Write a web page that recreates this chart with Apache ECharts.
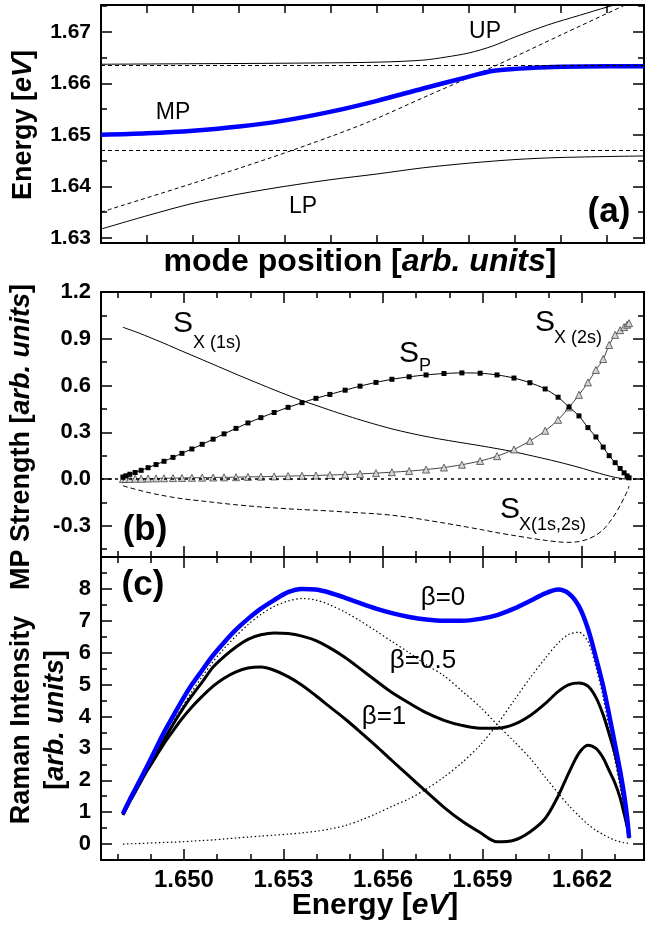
<!DOCTYPE html>
<html>
<head>
<meta charset="utf-8">
<script src="https://cdn.jsdelivr.net/npm/echarts@6/dist/echarts.min.js"></script>
<style>
  html, body { margin: 0; padding: 0; background: #fff; }
  #chart { width: 646px; height: 927px; }
</style>
</head>
<body>
<div id="chart"></div>
<script>
// ---- panel (a): energy vs mode position ----
var modeMP = [0, 1, 2, 3, 4, 5, 6, 7, 8, 8.5, 9, 10, 11, 11.8];
var mpEnergy = [1.6500, 1.6503, 1.6508, 1.6516, 1.6528, 1.6545, 1.6566, 1.6590, 1.6613, 1.6624, 1.6628, 1.6632, 1.6633, 1.6633];
var modeUP = [0, 2, 4, 6, 7, 7.5, 8, 8.5, 9, 9.7, 10.4, 11, 11.8];
var upEnergy = [1.6637, 1.6638, 1.6639, 1.6641, 1.6645, 1.6651, 1.6659, 1.6672, 1.6690, 1.6713, 1.6732, 1.6748, 1.6768];
var modeLP = [0, 1, 2, 3, 4, 5, 6, 7, 8, 9, 10, 11.8];
var lpEnergy = [1.6317, 1.6343, 1.6367, 1.6385, 1.6400, 1.6413, 1.6424, 1.6436, 1.6445, 1.6452, 1.6456, 1.6459];
var modePh = [0, 2, 3.67, 5, 5.84, 7, 8.57, 10, 11.39, 11.8];
var phEnergy = [1.6350, 1.6406, 1.6455, 1.6497, 1.6526, 1.6572, 1.6634, 1.6694, 1.6752, 1.6769];
var excitonLevels = [1.6471, 1.6635];

// ---- panels (b) and (c): vs MP energy ----
var energy = [1.64816, 1.64825, 1.64837, 1.64853, 1.64871, 1.64892, 1.64916, 1.64940, 1.64967, 1.64994,
  1.65024, 1.65055, 1.65088, 1.65121, 1.65157, 1.65193, 1.65232, 1.65272, 1.65314, 1.65356,
  1.65398, 1.65440, 1.65486, 1.65531, 1.65579, 1.65627, 1.65679, 1.65730, 1.65784, 1.65838,
  1.65893, 1.65944, 1.65995, 1.66043, 1.66089, 1.66128, 1.66161, 1.66191, 1.66218, 1.66242,
  1.66264, 1.66282, 1.66300, 1.66315, 1.66327, 1.66336, 1.66342];
var sP = [0.013, 0.021, 0.031, 0.042, 0.056, 0.073, 0.093, 0.114, 0.139, 0.165,
  0.193, 0.223, 0.256, 0.29, 0.325, 0.36, 0.394, 0.427, 0.46, 0.49,
  0.518, 0.543, 0.57, 0.596, 0.62, 0.64, 0.656, 0.668, 0.677, 0.681,
  0.679, 0.668, 0.648, 0.618, 0.578, 0.525, 0.462, 0.405, 0.33, 0.27,
  0.205, 0.15, 0.105, 0.068, 0.04, 0.02, 0.008];
var sX2s = [0, 0, 0.001, 0.002, 0.002, 0.003, 0.004, 0.005, 0.006, 0.007,
  0.008, 0.009, 0.01, 0.011, 0.012, 0.014, 0.015, 0.017, 0.019, 0.021,
  0.023, 0.026, 0.029, 0.033, 0.038, 0.044, 0.051, 0.061, 0.074, 0.092,
  0.116, 0.147, 0.19, 0.245, 0.31, 0.38, 0.46, 0.54, 0.62, 0.7,
  0.77, 0.86, 0.925, 0.955, 0.975, 0.99, 1.0];
var sX1s = [0.974, 0.967, 0.958, 0.946, 0.931, 0.913, 0.892, 0.871, 0.846, 0.821,
  0.794, 0.766, 0.736, 0.706, 0.673, 0.641, 0.607, 0.572, 0.537, 0.503,
  0.473, 0.442, 0.41, 0.38, 0.35, 0.322, 0.296, 0.273, 0.252, 0.233,
  0.214, 0.195, 0.175, 0.152, 0.13, 0.11, 0.092, 0.075, 0.058, 0.043,
  0.03, 0.02, 0.011, 0.005, 0.001, 0, 0];
var sX12 = [-0.043, -0.049, -0.056, -0.065, -0.075, -0.086, -0.097, -0.107, -0.117, -0.126,
  -0.134, -0.141, -0.149, -0.157, -0.165, -0.172, -0.179, -0.185, -0.191, -0.196,
  -0.2, -0.205, -0.211, -0.217, -0.223, -0.232, -0.246, -0.263, -0.282, -0.302,
  -0.323, -0.344, -0.362, -0.379, -0.393, -0.403, -0.406, -0.401, -0.385, -0.36,
  -0.325, -0.28, -0.225, -0.17, -0.12, -0.08, -0.045];
var beta0 = [0.95, 1.15, 1.4, 1.72, 2.08, 2.5, 3.0, 3.5, 4.0, 4.5,
  5.0, 5.45, 5.92, 6.32, 6.72, 7.06, 7.38, 7.65, 7.9, 8.0,
  7.98, 7.88, 7.72, 7.55, 7.38, 7.24, 7.12, 7.04, 7.0, 7.0,
  7.06, 7.18, 7.38, 7.62, 7.86, 7.98, 7.85, 7.45, 6.75, 5.85,
  4.95, 4.05, 3.1, 2.3, 1.55, 0.85, 0.2];
var beta05 = [0.92, 1.1, 1.35, 1.65, 2.0, 2.38, 2.82, 3.27, 3.75, 4.2,
  4.65, 5.08, 5.55, 5.88, 6.18, 6.42, 6.56, 6.62, 6.6, 6.52,
  6.38, 6.15, 5.85, 5.5, 5.12, 4.75, 4.42, 4.12, 3.88, 3.72,
  3.63, 3.63, 3.75, 4.02, 4.4, 4.78, 5.0, 5.05, 4.95, 4.6,
  4.05, 3.45, 2.8, 2.05, 1.35, 0.75, 0.2];
var beta1 = [0.92, 1.1, 1.34, 1.63, 1.97, 2.35, 2.75, 3.15, 3.55, 3.93,
  4.3, 4.63, 4.95, 5.2, 5.4, 5.52, 5.55, 5.45, 5.25, 4.98,
  4.65, 4.3, 3.92, 3.52, 3.08, 2.62, 2.13, 1.65, 1.15, 0.72,
  0.36, 0.07, 0.12, 0.38, 0.8, 1.5, 2.25, 2.85, 3.1, 3.0,
  2.7, 2.3, 1.9, 1.45, 0.95, 0.55, 0.2];
var dotA = [0, 0, 0.01, 0.01, 0.02, 0.03, 0.04, 0.05, 0.06, 0.07,
  0.09, 0.11, 0.13, 0.16, 0.19, 0.22, 0.25, 0.28, 0.31, 0.35,
  0.4, 0.47, 0.58, 0.74, 0.95, 1.18, 1.42, 1.72, 2.1, 2.55,
  3.1, 3.75, 4.5, 5.2, 5.82, 6.3, 6.58, 6.64, 6.35, 5.55,
  4.6, 3.6, 2.6, 1.8, 1.1, 0.55, 0.15];
var dotB = [0.92, 1.1, 1.35, 1.65, 2.0, 2.4, 2.85, 3.3, 3.8, 4.28,
  4.78, 5.25, 5.72, 6.13, 6.52, 6.88, 7.2, 7.45, 7.62, 7.7,
  7.65, 7.5, 7.27, 7.0, 6.68, 6.35, 6.0, 5.62, 5.28, 4.8,
  4.3, 3.75, 3.22, 2.7, 2.1, 1.6, 1.2, 0.88, 0.62, 0.43,
  0.3, 0.2, 0.12, 0.07, 0.04, 0.03, 0.02];

// tick labels / tick positions
var aYLabels = [1.63, 1.64, 1.65, 1.66, 1.67];
var aYMinor = [1.635, 1.645, 1.655, 1.665, 1.675];
var aXTicks = [1, 2, 3, 4, 5, 6, 7, 8, 9, 10, 11];
var eLabels = [1.650, 1.653, 1.656, 1.659, 1.662];
var eMinor = [1.648, 1.649, 1.651, 1.652, 1.654, 1.655, 1.657, 1.658, 1.660, 1.661, 1.663];
var bYLabels = [-0.3, 0, 0.3, 0.6, 0.9, 1.2];
var bYMinor = [-0.45, -0.15, 0.15, 0.45, 0.75, 1.05];
var cYLabels = [0, 1, 2, 3, 4, 5, 6, 7, 8];
var cYMinor = [0.5, 1.5, 2.5, 3.5, 4.5, 5.5, 6.5, 7.5, 8.5];

var FONT = '"Liberation Sans", Arial, Helvetica, sans-serif';

function zip(xs, ys) {
  return xs.map(function (x, i) { return [x, ys[i]]; });
}

var xAxes = [], yAxes = [];

// one grid = 4 x axes (bottom major/minor, top major/minor) + 4 y axes
function addAxes(list, gi, isX, cfg) {
  var sides = isX ? ['bottom', 'top'] : ['left', 'right'];
  sides.forEach(function (pos) {
    [true, false].forEach(function (major) {
      var showLab = major && pos === sides[0] && cfg.labels;
      list.push({
        type: 'value', gridIndex: gi, position: pos,
        min: cfg.min, max: cfg.max,
        axisLine: { show: major, onZero: false, lineStyle: { color: '#000', width: 2 } },
        axisTick: {
          show: true, inside: true,
          length: major ? cfg.majorLen : cfg.minorLen,
          customValues: major ? cfg.majors : cfg.minors,
          lineStyle: { color: '#000', width: 1.5 }
        },
        axisLabel: showLab ? {
          show: true, customValues: cfg.labels, formatter: cfg.fmt,
          color: '#000', fontWeight: 'bold', fontSize: cfg.fontSize,
          fontFamily: FONT, margin: cfg.margin
        } : { show: false },
        splitLine: { show: false }
      });
    });
  });
}

// panel a
addAxes(xAxes, 0, true, { min: 0, max: 11.8, majors: aXTicks, minors: [], majorLen: 8, minorLen: 0 });
addAxes(yAxes, 0, false, { min: 1.629, max: 1.6752, majors: aYLabels, minors: aYMinor, majorLen: 11, minorLen: 6,
  labels: aYLabels, fmt: function (v) { return v.toFixed(2); }, fontSize: 21, margin: 10 });
// panel b
addAxes(xAxes, 1, true, { min: 1.6475, max: 1.66387, majors: eLabels, minors: eMinor, majorLen: 11, minorLen: 6 });
addAxes(yAxes, 1, false, { min: -0.5, max: 1.2, majors: bYLabels, minors: bYMinor, majorLen: 11, minorLen: 6,
  labels: bYLabels, fmt: function (v) { return v.toFixed(1); }, fontSize: 22, margin: 10 });
// panel c
addAxes(xAxes, 2, true, { min: 1.6475, max: 1.66387, majors: eLabels, minors: eMinor, majorLen: 11, minorLen: 6,
  labels: eLabels, fmt: function (v) { return v.toFixed(3); }, fontSize: 24, margin: 8 });
addAxes(yAxes, 2, false, { min: -0.5, max: 9, majors: cYLabels, minors: cYMinor, majorLen: 11, minorLen: 6,
  labels: cYLabels, fmt: function (v) { return String(v); }, fontSize: 22, margin: 10 });

function line(panel, data, color, width, type, extra) {
  var s = {
    type: 'line', xAxisIndex: panel * 4, yAxisIndex: panel * 4,
    data: data, showSymbol: false, symbol: 'none', smooth: 0.3,
    lineStyle: { color: color, width: width, type: type || 'solid' },
    silent: true, animation: false
  };
  if (extra) Object.keys(extra).forEach(function (k) { s[k] = extra[k]; });
  return s;
}

var zeroLine = {
  silent: true, symbol: 'none', label: { show: false }, precision: 5,
  lineStyle: { color: '#000', width: 1.5, type: [3, 4] },
  data: [{ yAxis: 0 }]
};
var excLines = {
  silent: true, symbol: 'none', label: { show: false }, precision: 5,
  lineStyle: { color: '#000', width: 1, type: [4, 3] },
  data: excitonLevels.map(function (v) { return { yAxis: v }; })
};

var series = [
  // (a)
  line(0, zip(modeLP, lpEnergy), '#000', 1, 'solid', { markLine: excLines }),
  line(0, zip(modePh, phEnergy), '#000', 1, [4, 3]),
  line(0, zip(modeUP, upEnergy), '#000', 1),
  line(0, zip(modeMP, mpEnergy), '#0000ff', 4.5),
  // (b)
  line(1, zip(energy, sX1s), '#000', 1, 'solid', { markLine: zeroLine }),
  line(1, zip(energy, sX12), '#000', 1, [5, 3]),
  line(1, zip(energy, sX2s), '#444', 1, 'solid', {
    showSymbol: true, symbol: 'triangle', symbolSize: 7,
    itemStyle: { color: '#d4d4d4', borderColor: '#444', borderWidth: 0.8 }
  }),
  line(1, zip(energy, sP), '#000', 1, 'solid', {
    showSymbol: true, symbol: 'rect', symbolSize: 5,
    itemStyle: { color: '#000' }
  }),
  // (c)
  line(2, zip(energy, dotA), '#000', 1.2, [1.5, 2.5]),
  line(2, zip(energy, dotB), '#000', 1.2, [1.5, 2.5]),
  line(2, zip(energy, beta1), '#000', 3),
  line(2, zip(energy, beta05), '#000', 3),
  line(2, zip(energy, beta0), '#0000ff', 4.5)
];

function txt(x, y, text, size, weight, opts) {
  opts = opts || {};
  return {
    type: 'text', x: x, y: y, rotation: opts.rot || 0, silent: true, z: 100,
    style: {
      text: text, fill: '#000', fontSize: size, fontWeight: weight || 'normal',
      fontFamily: FONT, textAlign: opts.align || 'center', textVerticalAlign: 'middle',
      rich: opts.rich
    }
  };
}
function richT(size) {
  return {
    b: { fontSize: size, fontWeight: 'bold', fontFamily: FONT, fill: '#000' },
    i: { fontSize: size, fontWeight: 'bold', fontStyle: 'italic', fontFamily: FONT, fill: '#000' }
  };
}
var ROT = Math.PI / 2;

var graphics = [
  // axis titles
  txt(24, 125, '{b|Energy [}{i|eV}{b|]}', 27, 'bold', { rot: ROT, rich: richT(27) }),
  txt(360, 262, '{b|mode position [}{i|arb. units}{b|]}', 32, 'bold', { rich: richT(32) }),
  txt(22, 437, '{b|MP Strength [}{i|arb. units}{b|]}', 27, 'bold', { rot: ROT, rich: richT(27) }),
  txt(22, 720, 'Raman Intensity', 27, 'bold', { rot: ROT }),
  txt(56, 720, '{b|[}{i|arb. units}{b|]}', 27, 'bold', { rot: ROT, rich: richT(27) }),
  txt(375, 906, '{b|Energy [}{i|eV}{b|]}', 30, 'bold', { rich: richT(30) }),
  // panel tags
  txt(609, 212, '(a)', 35, 'bold'),
  txt(145, 530, '(b)', 35, 'bold'),
  txt(143, 585, '(c)', 35, 'bold'),
  // (a) curve names
  txt(485, 32, 'UP', 23),
  txt(173, 113, 'MP', 23),
  txt(303, 207, 'LP', 23),
  // (b) curve names
  txt(183, 324, 'S', 30),
  txt(193, 343, 'X (1s)', 18, 'normal', { align: 'left' }),
  txt(409, 354, 'S', 30),
  txt(419, 366, 'P', 18, 'normal', { align: 'left' }),
  txt(545, 323, 'S', 30),
  txt(554, 338, 'X (2s)', 18, 'normal', { align: 'left' }),
  txt(510, 510, 'S', 30),
  txt(519, 525, 'X(1s,2s)', 18, 'normal', { align: 'left' }),
  // (c) curve names
  txt(443, 598, 'β=0', 26),
  txt(423, 661, 'β=0.5', 26),
  txt(384, 717, 'β=1', 26)
];

var chart = echarts.init(document.getElementById('chart'), null, { renderer: 'canvas' });
chart.setOption({
  backgroundColor: '#fff',
  animation: false,
  grid: [
    { left: 101, top: 5, width: 543, height: 238 },
    { left: 101, top: 292, width: 543, height: 265 },
    { left: 101, top: 557, width: 543, height: 303 }
  ],
  xAxis: xAxes,
  yAxis: yAxes,
  series: series,
  graphic: graphics
});
</script>
</body>
</html>
